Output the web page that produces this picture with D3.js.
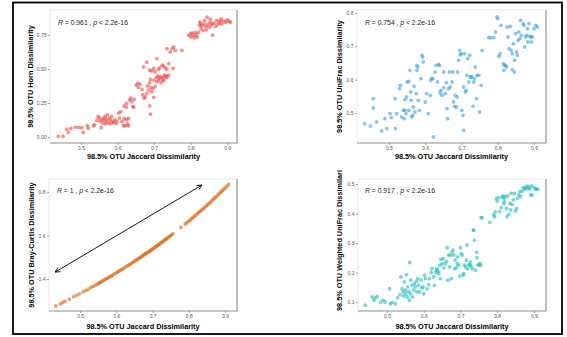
<!DOCTYPE html>
<html>
<head>
<meta charset="utf-8">
<script src="https://cdn.jsdelivr.net/npm/d3@7"></script>
<style>
  body { margin: 0; background: #ffffff; }
  svg { display: block; font-family: "Liberation Sans", Arial, sans-serif; }
</style>
</head>
<body>
<svg id="Chart" width="567" height="337"></svg>
<script>
// Tick values
const JaccardTicks = [0.5, 0.6, 0.7, 0.8, 0.9];
const HornTicks = [0, 0.25, 0.5, 0.75];
const UniFracTicks = [0.5, 0.6, 0.7, 0.8];
const BrayTicks = [0.4, 0.6, 0.8];
const WeightedTicks = [0.1, 0.2, 0.3, 0.4, 0.5];

// Labels
const XTitle = "98.5% OTU Jaccard Dissimilarity";
const YTitles = ["98.5% OTU Horn Dissimilarity", "98.5% OTU UniFrac Dissimilarity",
    "98.5% OTU Bray-Curtis Dissimilarity", "98.5% OTU Weighted UniFrac Dissimilari"];
const Correlations = ["0.961", "0.754", "1", "0.917"];

// Points: [Jaccard, other metric]
const HornPoints = [[0.438,0.005],[0.451,0.005],[0.461,0.058],[0.465,0.034],[0.472,0.063],[0.484,0.071],[0.493,0.071],[0.502,0.068],[0.506,0.034],[0.517,0.083],[0.520,0.063],[0.534,0.083],[0.537,0.090],[0.543,0.122],[0.547,0.151],[0.550,0.139],[0.552,0.114],[0.555,0.068],[0.557,0.127],[0.560,0.102],[0.561,0.139],[0.563,0.122],[0.566,0.151],[0.567,0.097],[0.569,0.131],[0.570,0.114],[0.572,0.163],[0.575,0.102],[0.578,0.139],[0.580,0.122],[0.581,0.097],[0.584,0.151],[0.587,0.114],[0.589,0.107],[0.593,0.127],[0.596,0.097],[0.598,0.114],[0.603,0.175],[0.605,0.139],[0.609,0.187],[0.612,0.114],[0.616,0.083],[0.618,0.136],[0.621,0.083],[0.624,0.127],[0.627,0.097],[0.630,0.083],[0.630,0.136],[0.618,0.229],[0.624,0.219],[0.625,0.248],[0.633,0.272],[0.636,0.285],[0.639,0.260],[0.642,0.224],[0.644,0.219],[0.646,0.277],[0.651,0.382],[0.655,0.394],[0.657,0.365],[0.662,0.389],[0.667,0.350],[0.669,0.309],[0.673,0.285],[0.676,0.297],[0.680,0.321],[0.682,0.375],[0.685,0.345],[0.688,0.399],[0.690,0.423],[0.691,0.365],[0.694,0.333],[0.697,0.358],[0.699,0.292],[0.700,0.418],[0.703,0.370],[0.706,0.438],[0.708,0.406],[0.710,0.448],[0.712,0.418],[0.715,0.431],[0.717,0.443],[0.719,0.399],[0.722,0.438],[0.724,0.423],[0.726,0.414],[0.728,0.455],[0.731,0.443],[0.733,0.448],[0.735,0.438],[0.740,0.455],[0.688,0.229],[0.690,0.168],[0.671,0.516],[0.680,0.550],[0.688,0.491],[0.694,0.487],[0.699,0.504],[0.703,0.479],[0.708,0.577],[0.712,0.496],[0.715,0.509],[0.722,0.528],[0.726,0.521],[0.731,0.509],[0.735,0.496],[0.740,0.540],[0.752,0.504],[0.735,0.650],[0.744,0.625],[0.749,0.650],[0.754,0.662],[0.758,0.637],[0.776,0.637],[0.795,0.747],[0.799,0.759],[0.801,0.735],[0.804,0.766],[0.807,0.749],[0.810,0.730],[0.813,0.769],[0.816,0.752],[0.818,0.735],[0.822,0.771],[0.825,0.847],[0.827,0.832],[0.829,0.796],[0.831,0.820],[0.834,0.783],[0.836,0.832],[0.838,0.856],[0.841,0.813],[0.843,0.788],[0.845,0.827],[0.850,0.808],[0.853,0.842],[0.854,0.866],[0.856,0.820],[0.859,0.832],[0.860,0.749],[0.864,0.837],[0.868,0.813],[0.871,0.856],[0.873,0.827],[0.877,0.849],[0.880,0.832],[0.882,0.856],[0.884,0.869],[0.886,0.832],[0.891,0.852],[0.896,0.844],[0.900,0.861],[0.905,0.852],[0.909,0.844],[0.825,0.820],[0.845,0.881]];

const UniFracPoints = [[0.433,0.468],[0.449,0.461],[0.457,0.515],[0.457,0.543],[0.466,0.473],[0.480,0.446],[0.489,0.483],[0.494,0.453],[0.503,0.498],[0.507,0.486],[0.517,0.543],[0.518,0.453],[0.521,0.498],[0.529,0.573],[0.532,0.583],[0.535,0.488],[0.540,0.508],[0.542,0.483],[0.544,0.508],[0.544,0.540],[0.547,0.498],[0.549,0.548],[0.551,0.593],[0.554,0.595],[0.555,0.508],[0.558,0.628],[0.560,0.563],[0.561,0.538],[0.563,0.488],[0.565,0.493],[0.567,0.518],[0.569,0.580],[0.572,0.503],[0.575,0.558],[0.577,0.643],[0.577,0.628],[0.579,0.638],[0.581,0.538],[0.584,0.508],[0.588,0.603],[0.591,0.673],[0.593,0.668],[0.595,0.653],[0.600,0.533],[0.604,0.558],[0.609,0.498],[0.614,0.553],[0.615,0.598],[0.618,0.603],[0.621,0.603],[0.623,0.428],[0.627,0.623],[0.630,0.643],[0.634,0.593],[0.637,0.646],[0.639,0.643],[0.641,0.560],[0.643,0.568],[0.646,0.553],[0.651,0.576],[0.651,0.623],[0.655,0.558],[0.658,0.591],[0.660,0.513],[0.662,0.483],[0.664,0.573],[0.667,0.623],[0.669,0.578],[0.674,0.593],[0.676,0.623],[0.678,0.533],[0.681,0.520],[0.683,0.553],[0.686,0.518],[0.688,0.548],[0.689,0.623],[0.692,0.658],[0.695,0.688],[0.697,0.675],[0.699,0.678],[0.701,0.508],[0.704,0.493],[0.706,0.448],[0.706,0.578],[0.708,0.678],[0.711,0.563],[0.713,0.568],[0.715,0.613],[0.717,0.663],[0.720,0.593],[0.723,0.673],[0.724,0.608],[0.726,0.608],[0.729,0.608],[0.732,0.520],[0.734,0.593],[0.736,0.603],[0.738,0.638],[0.741,0.543],[0.743,0.613],[0.748,0.613],[0.750,0.503],[0.754,0.583],[0.757,0.688],[0.775,0.726],[0.780,0.726],[0.789,0.726],[0.794,0.743],[0.798,0.788],[0.800,0.783],[0.803,0.670],[0.806,0.678],[0.809,0.763],[0.815,0.648],[0.817,0.628],[0.819,0.643],[0.821,0.643],[0.824,0.638],[0.826,0.758],[0.828,0.728],[0.831,0.693],[0.835,0.760],[0.837,0.688],[0.840,0.678],[0.843,0.708],[0.846,0.658],[0.849,0.738],[0.852,0.683],[0.854,0.673],[0.856,0.718],[0.858,0.743],[0.861,0.723],[0.863,0.778],[0.865,0.733],[0.870,0.768],[0.872,0.763],[0.874,0.698],[0.877,0.728],[0.880,0.733],[0.882,0.753],[0.883,0.713],[0.886,0.768],[0.889,0.730],[0.891,0.728],[0.893,0.713],[0.895,0.728],[0.900,0.753],[0.905,0.763],[0.909,0.758],[0.846,0.623],[0.840,0.630]];

const BrayPoints = [[0.433,0.276],[0.445,0.286],[0.452,0.292],[0.458,0.297],[0.470,0.307],[0.482,0.318],[0.490,0.325],[0.498,0.332],[0.508,0.341],[0.515,0.347],[0.522,0.353],[0.530,0.361],[0.536,0.366],[0.542,0.372],[0.547,0.377],[0.551,0.380],[0.555,0.384],[0.558,0.387],[0.562,0.391],[0.566,0.395],[0.570,0.399],[0.574,0.403],[0.578,0.407],[0.582,0.410],[0.586,0.414],[0.590,0.418],[0.595,0.424],[0.600,0.429],[0.604,0.433],[0.608,0.437],[0.612,0.441],[0.616,0.445],[0.620,0.449],[0.625,0.455],[0.630,0.460],[0.634,0.464],[0.638,0.468],[0.642,0.473],[0.646,0.477],[0.650,0.482],[0.654,0.486],[0.657,0.489],[0.660,0.493],[0.664,0.497],[0.667,0.500],[0.670,0.504],[0.673,0.507],[0.676,0.511],[0.679,0.514],[0.682,0.518],[0.685,0.521],[0.688,0.524],[0.691,0.528],[0.694,0.531],[0.697,0.535],[0.700,0.538],[0.703,0.542],[0.706,0.546],[0.709,0.549],[0.712,0.553],[0.715,0.556],[0.718,0.560],[0.721,0.564],[0.724,0.567],[0.727,0.571],[0.730,0.575],[0.733,0.579],[0.736,0.582],[0.739,0.586],[0.742,0.590],[0.745,0.594],[0.748,0.597],[0.752,0.603],[0.756,0.608],[0.778,0.637],[0.790,0.653],[0.795,0.660],[0.800,0.667],[0.804,0.672],[0.808,0.678],[0.812,0.684],[0.816,0.689],[0.820,0.695],[0.824,0.701],[0.828,0.707],[0.832,0.712],[0.836,0.718],[0.840,0.724],[0.844,0.730],[0.848,0.736],[0.852,0.742],[0.856,0.748],[0.860,0.754],[0.864,0.761],[0.868,0.767],[0.872,0.773],[0.876,0.779],[0.880,0.786],[0.884,0.792],[0.888,0.799],[0.892,0.805],[0.896,0.812],[0.900,0.818],[0.905,0.827],[0.910,0.835]];

const WeightedPoints = [[0.441,0.089],[0.459,0.117],[0.464,0.106],[0.468,0.114],[0.473,0.119],[0.482,0.098],[0.489,0.106],[0.495,0.100],[0.507,0.145],[0.509,0.094],[0.514,0.098],[0.523,0.094],[0.529,0.114],[0.535,0.125],[0.538,0.185],[0.541,0.145],[0.544,0.134],[0.545,0.120],[0.547,0.168],[0.550,0.140],[0.551,0.128],[0.553,0.193],[0.555,0.117],[0.556,0.151],[0.559,0.136],[0.561,0.106],[0.562,0.234],[0.564,0.128],[0.565,0.174],[0.568,0.157],[0.570,0.117],[0.573,0.140],[0.575,0.162],[0.577,0.151],[0.580,0.170],[0.582,0.134],[0.584,0.179],[0.586,0.157],[0.589,0.134],[0.593,0.174],[0.595,0.148],[0.598,0.151],[0.600,0.128],[0.602,0.191],[0.605,0.179],[0.609,0.145],[0.614,0.159],[0.616,0.179],[0.620,0.200],[0.623,0.213],[0.627,0.185],[0.629,0.157],[0.632,0.200],[0.635,0.208],[0.636,0.213],[0.639,0.204],[0.641,0.196],[0.644,0.225],[0.645,0.179],[0.647,0.245],[0.650,0.230],[0.653,0.247],[0.655,0.216],[0.659,0.230],[0.662,0.238],[0.664,0.284],[0.666,0.174],[0.668,0.259],[0.671,0.219],[0.673,0.259],[0.675,0.179],[0.677,0.268],[0.680,0.276],[0.682,0.259],[0.684,0.213],[0.686,0.242],[0.689,0.216],[0.691,0.230],[0.693,0.253],[0.695,0.225],[0.698,0.188],[0.700,0.284],[0.702,0.264],[0.705,0.259],[0.707,0.191],[0.709,0.196],[0.711,0.225],[0.714,0.219],[0.716,0.242],[0.718,0.293],[0.720,0.213],[0.723,0.227],[0.725,0.225],[0.727,0.236],[0.729,0.222],[0.732,0.213],[0.735,0.344],[0.736,0.344],[0.738,0.310],[0.741,0.208],[0.744,0.268],[0.745,0.250],[0.748,0.225],[0.750,0.227],[0.753,0.230],[0.755,0.225],[0.756,0.386],[0.759,0.386],[0.780,0.370],[0.791,0.395],[0.793,0.389],[0.795,0.406],[0.798,0.451],[0.800,0.442],[0.805,0.454],[0.807,0.406],[0.811,0.420],[0.814,0.457],[0.816,0.460],[0.818,0.451],[0.820,0.440],[0.823,0.457],[0.825,0.417],[0.827,0.389],[0.829,0.460],[0.832,0.397],[0.835,0.434],[0.836,0.412],[0.838,0.468],[0.841,0.431],[0.844,0.446],[0.847,0.468],[0.850,0.408],[0.853,0.417],[0.855,0.451],[0.859,0.463],[0.862,0.474],[0.864,0.457],[0.868,0.476],[0.871,0.488],[0.875,0.485],[0.877,0.483],[0.880,0.493],[0.884,0.485],[0.886,0.491],[0.889,0.483],[0.891,0.463],[0.893,0.494],[0.895,0.463],[0.900,0.488],[0.905,0.483],[0.907,0.483],[0.911,0.483],[0.818,0.434]];

// Double-headed arrow on the Bray-Curtis panel, in data units
const ArrowEnds = [[0.431, 0.432], [0.836, 0.832]];

/** Panels: layout of the four sub-plots (pixels) and their data. */
const Panels = [
    { Points: HornPoints, YTicks: HornTicks, YFormat: ".2f", Color: "#ec4a44",
      Left: 50, Right: 237, Top: 10, Bottom: 143, XDomain: [0.415, 0.927], YDomain: [-0.044, 0.934],
      YTitleX: 32.5, TitleY: 159, NoteX: 58, NoteY: 24.5 },
    { Points: UniFracPoints, YTicks: UniFracTicks, YFormat: ".1f", Color: "#3d9ee3",
      Left: 357, Right: 546, Top: 10, Bottom: 143, XDomain: [0.412, 0.933], YDomain: [0.41, 0.809],
      YTitleX: 342, TitleY: 159, NoteX: 365, NoteY: 24.5 },
    { Points: BrayPoints, YTicks: BrayTicks, YFormat: ".1f", Color: "#dd6414",
      Left: 49, Right: 237, Top: 179, Bottom: 311, XDomain: [0.414, 0.933], YDomain: [0.253, 0.86],
      YTitleX: 34, TitleY: 328.5, NoteX: 57, NoteY: 193, Arrow: ArrowEnds },
    { Points: WeightedPoints, YTicks: WeightedTicks, YFormat: ".1f", Color: "#1fbcbd",
      Left: 358, Right: 546, Top: 179, Bottom: 311, XDomain: [0.421, 0.933], YDomain: [0.0695, 0.517],
      YTitleX: 341.5, TitleY: 328.5, NoteX: 365, NoteY: 193, YTitleStart: 311 }
];

var Svg = d3.select("#Chart");

// Arrow head marker
Svg.append("defs").append("marker")
    .attr("id", "Head").attr("viewBox", "0 0 10 10").attr("refX", 9).attr("refY", 5)
    .attr("markerWidth", 6).attr("markerHeight", 6).attr("orient", "auto-start-reverse")
    .attr("markerUnits", "userSpaceOnUse")
    .append("path").attr("d", "M1,1 L9,5 L1,9").attr("fill", "none").attr("stroke", "#000").attr("stroke-width", 1.4);

/** DrawPanel: Draw one scatter sub-plot. */
function DrawPanel(Panel, Index) {
    var X = d3.scaleLinear().domain(Panel.XDomain).range([Panel.Left, Panel.Right]);
    var Y = d3.scaleLinear().domain(Panel.YDomain).range([Panel.Bottom, Panel.Top]);
    var G = Svg.append("g");
    // Panel frame: faint on top/left, darker on right/bottom
    G.append("rect")
        .attr("x", Panel.Left).attr("y", Panel.Top)
        .attr("width", Panel.Right - Panel.Left).attr("height", Panel.Bottom - Panel.Top)
        .attr("fill", "#fff").attr("stroke", "#e2e2e2").attr("stroke-width", 0.8);
    G.append("path")
        .attr("d", `M${Panel.Right},${Panel.Top}V${Panel.Bottom}H${Panel.Left}`)
        .attr("fill", "none").attr("stroke", "#9a9a9a").attr("stroke-width", 1.2);
    // Axes
    var XAxis = G.append("g").attr("transform", `translate(0,${Panel.Bottom})`)
        .call(d3.axisBottom(X).tickValues(JaccardTicks).tickFormat(d3.format(".1f")).tickSize(2).tickPadding(1));
    var YAxis = G.append("g").attr("transform", `translate(${Panel.Left},0)`)
        .call(d3.axisLeft(Y).tickValues(Panel.YTicks).tickFormat(d3.format(Panel.YFormat)).tickSize(2).tickPadding(1.5));
    [XAxis, YAxis].forEach((Axis) => {
        Axis.select(".domain").remove();
        Axis.selectAll(".tick line").attr("stroke", "#666").attr("stroke-width", 0.6);
        Axis.selectAll(".tick text").attr("fill", "#555").attr("font-size", 5)
            .attr("font-family", "'Liberation Sans', Arial, sans-serif");
    });
    // Points
    G.append("g").selectAll("circle").data(Panel.Points).join("circle")
        .attr("cx", (D) => X(D[0]))
        .attr("cy", (D) => Y(D[1]))
        .attr("r", 1.9)
        .attr("fill", Panel.Color)
        .attr("fill-opacity", 0.6);
    // Arrow
    if (Panel.Arrow) {
        G.append("line")
            .attr("x1", X(Panel.Arrow[0][0])).attr("y1", Y(Panel.Arrow[0][1]))
            .attr("x2", X(Panel.Arrow[1][0])).attr("y2", Y(Panel.Arrow[1][1]))
            .attr("stroke", "#000").attr("stroke-width", 0.9)
            .attr("marker-start", "url(#Head)").attr("marker-end", "url(#Head)");
    }
    // Correlation note
    var Note = G.append("text").attr("x", Panel.NoteX).attr("y", Panel.NoteY)
        .attr("font-size", 6.8).attr("fill", "#1a1a1a");
    Note.append("tspan").attr("font-style", "italic").text("R");
    Note.append("tspan").text(` = ${Correlations[Index]} , `);
    Note.append("tspan").attr("font-style", "italic").text("p");
    Note.append("tspan").text(" < 2.2e-16");
    // Axis titles
    G.append("text")
        .attr("x", (Panel.Left + Panel.Right) / 2).attr("y", Panel.TitleY)
        .attr("text-anchor", "middle").attr("font-size", 7.3).attr("font-weight", "bold")
        .text(XTitle);
    var YMid = Panel.YTitleStart ?? (Panel.Top + Panel.Bottom) / 2;
    G.append("text")
        .attr("transform", `translate(${Panel.YTitleX},${YMid}) rotate(-90)`)
        .attr("text-anchor", Panel.YTitleStart ? "start" : "middle")
        .attr("font-size", 7.3).attr("font-weight", "bold")
        .text(YTitles[Index]);
}

Panels.forEach(DrawPanel);

// Outer frame of the composite figure
Svg.append("rect")
    .attr("x", 13).attr("y", 2.5).attr("width", 549).attr("height", 331.5)
    .attr("fill", "none").attr("stroke", "#000").attr("stroke-width", 1.8);
</script>
</body>
</html>
